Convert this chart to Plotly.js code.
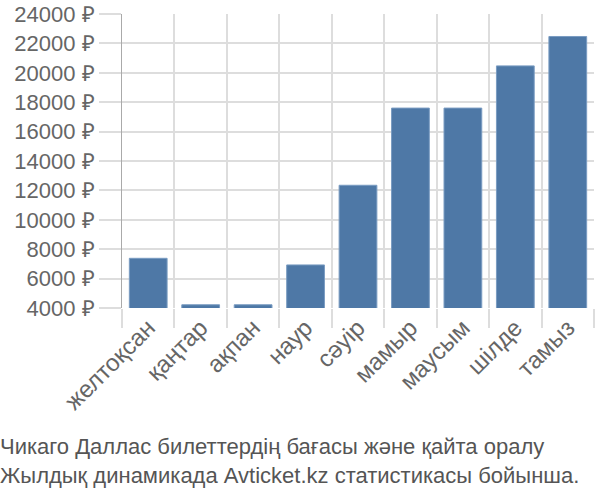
<!DOCTYPE html>
<html>
<head>
<meta charset="utf-8">
<script src="https://cdn.plot.ly/plotly-3.0.1.min.js"></script>
<style>html,body{margin:0;padding:0;background:#fff;}#chart{width:600px;height:500px;}</style>
</head>
<body>
<div id="chart"></div>
<script>
const months = ["желтоқсан","қаңтар","ақпан","наур","сәуір","мамыр","маусым","шілде","тамыз"];
const prices = [7380, 4220, 4220, 6930, 12350, 17600, 17600, 20470, 22470];
const titleLines = ["Чикаго Даллас билеттердің бағасы және қайта оралу","Жылдық динамикада Avticket.kz статистикасы бойынша."];

const font = "Liberation Sans, Arial, sans-serif";
Plotly.newPlot("chart", [{
  type: "bar",
  x: months,
  y: prices,
  marker: {color: "#4e78a6", line: {color: "#7a9cc2", width: 1}},
  hoverinfo: "x+y"
}], {
  width: 600, height: 500,
  margin: {l: 122, r: 6, t: 14, b: 192},
  paper_bgcolor: "#fff", plot_bgcolor: "#fff",
  bargap: 0.28,
  showlegend: false,
  font: {family: font, color: "#666", size: 22},
  title: {
    text: titleLines.join("<br>"),
    x: 0, xref: "container", xanchor: "left",
    y: 0.092, yref: "container", yanchor: "middle",
    font: {family: font, size: 22, color: "#555"}
  },
  xaxis: {
    type: "category",
    range: [-0.5, 8.5],
    tickson: "boundaries",
    ticks: "outside", ticklen: 19, tickcolor: "#ddd", tickwidth: 2,
    showgrid: true, gridcolor: "#ddd", gridwidth: 2,
    tickangle: -45,
    tickfont: {family: font, size: 24, color: "#666"},
    showline: false, zeroline: false
  },
  yaxis: {
    range: [4000, 24000],
    dtick: 2000,
    tick0: 4000,
    tickformat: "d",
    ticksuffix: " ₽",
    ticks: "outside", ticklen: 22, tickcolor: "#ddd", tickwidth: 2,
    showgrid: true, gridcolor: "#ddd", gridwidth: 2,
    showline: true, linecolor: "#aaa", linewidth: 1,
    zeroline: false,
    tickfont: {family: font, size: 22, color: "#666"}
  }
}, {displayModeBar: false, staticPlot: true});
</script>
</body>
</html>
